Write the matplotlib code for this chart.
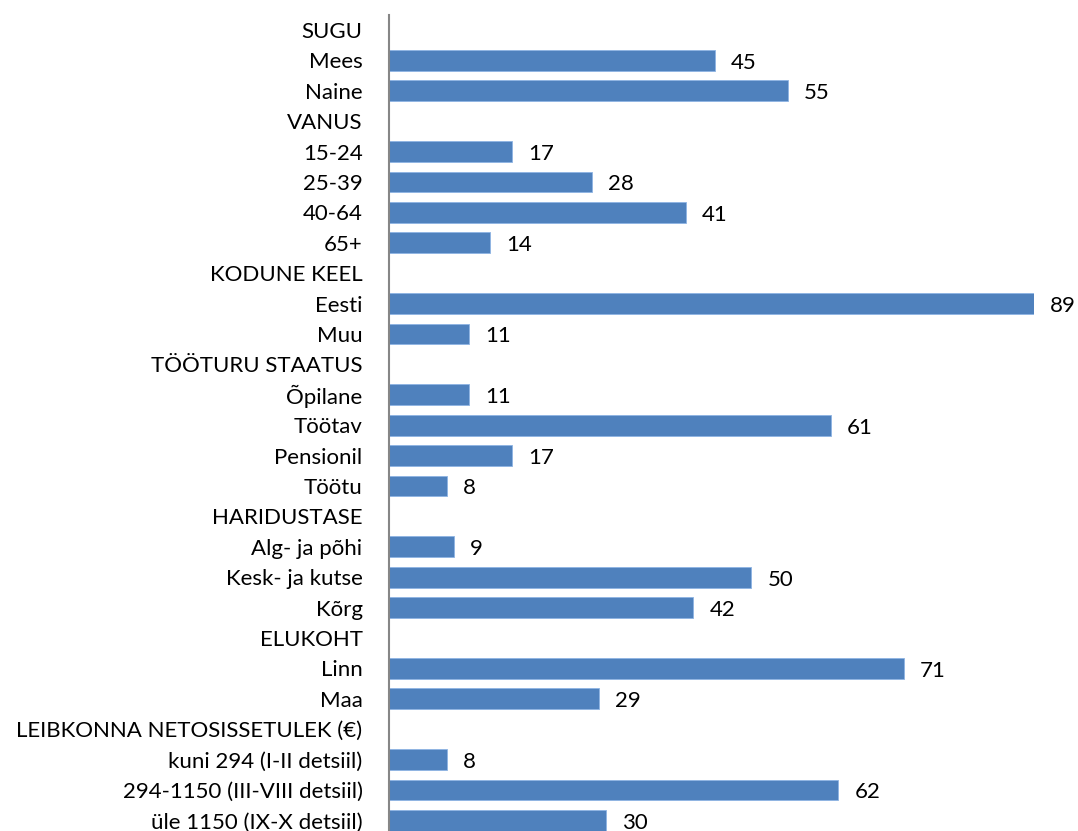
import matplotlib
matplotlib.use("Agg")
import matplotlib.pyplot as plt
import numpy as np

categories = ["SUGU", "Mees", "Naine", "VANUS", "15-24", "25-39", "40-64", "65+",
              "KODUNE KEEL", "Eesti", "Muu", "TÖÖTURU STAATUS", "Õpilane", "Töötav",
              "Pensionil", "Töötu", "HARIDUSTASE", "Alg- ja põhi", "Kesk- ja kutse",
              "Kõrg", "ELUKOHT", "Linn", "Maa", "LEIBKONNA NETOSISSETULEK (€)",
              "kuni 294 (I-II detsiil)", "294-1150 (III-VIII detsiil)", "üle 1150 (IX-X detsiil)"]
values = [None, 45, 55, None, 17, 28, 41, 14,
          None, 89, 11, None, 11, 61,
          17, 8, None, 9, 50,
          42, None, 71, 29, None,
          8, 62, 30]

plt.rcParams['font.family'] = ['Lato', 'DejaVu Sans']
FS = 16

W, H = 1078, 831
fig = plt.figure(figsize=(W/100, H/100), dpi=100)
top_px = 14.8
bot_px = 835.6
ax = fig.add_axes([389/W, 1 - bot_px/H, 645/W, (bot_px - top_px)/H])

n = len(categories)
y = np.arange(n)
for i, v in enumerate(values):
    if v is not None:
        ax.barh(i, v, height=0.69, color="#4F81BD", edgecolor="#8EB4E3", linewidth=0.6)
        ax.text(v + 16*89/645, i + 0.08, str(v), va="center", ha="left", fontsize=FS, color="black")

ax.set_ylim(n - 0.5, -0.5)
ax.set_xlim(0, 89)
ax.set_yticks(y)
ax.set_yticklabels(categories, fontsize=FS)
ax.tick_params(axis="y", length=0, pad=19)
ax.set_xticks([])
for s in ["top", "right", "bottom"]:
    ax.spines[s].set_visible(False)
ax.spines["left"].set_color("#868686")
ax.spines["left"].set_linewidth(1.5)

fig.savefig("out.png", dpi=100)
